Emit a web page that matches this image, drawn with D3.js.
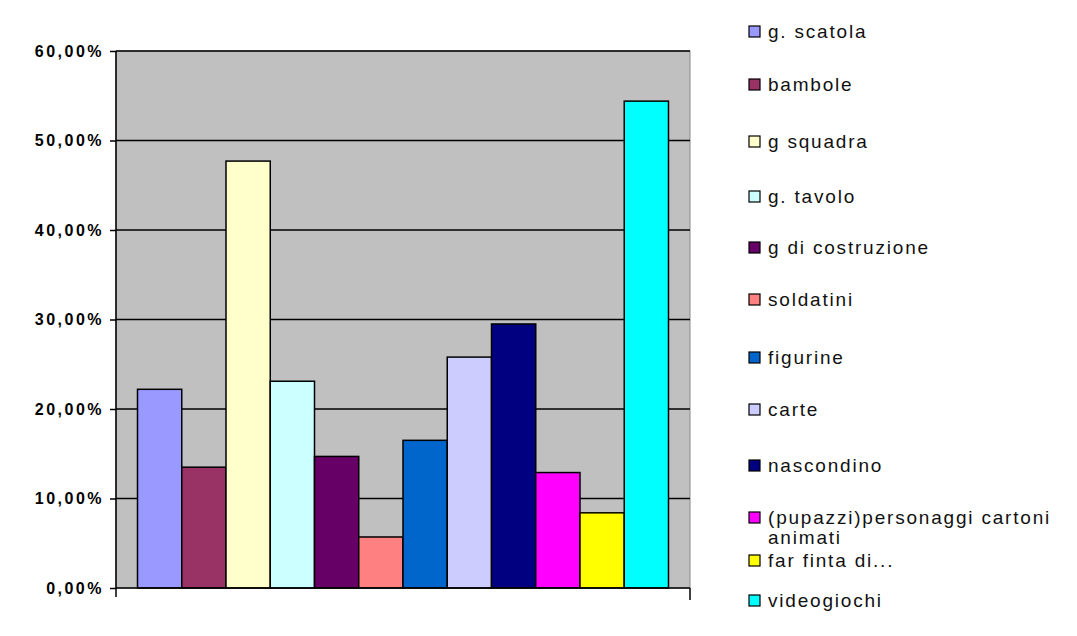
<!DOCTYPE html>
<html><head><meta charset="utf-8">
<script src="https://cdn.jsdelivr.net/npm/d3@7"></script>
<style>body{margin:0;background:#fff}svg{display:block}text{font-family:"Liberation Sans",Arial,sans-serif}</style>
</head><body><svg id="c" width="1077" height="636"></svg>
<script>
const categories = ["g. scatola","bambole","g squadra","g. tavolo","g di costruzione","soldatini","figurine","carte","nascondino","(pupazzi)personaggi cartoni|animati","far finta di...","videogiochi"];
const values = [22.2, 13.5, 47.7, 23.1, 14.7, 5.7, 16.5, 25.8, 29.5, 12.9, 8.4, 54.4];
const colors = ["#9999FF","#993366","#FFFFCC","#CCFFFF","#660066","#FF8080","#0066CC","#CCCCFF","#000080","#FF00FF","#FFFF00","#00FFFF"];
const yTicks = [0,10,20,30,40,50,60];
const tickLabels = ["0,00%","10,00%","20,00%","30,00%","40,00%","50,00%","60,00%"];
const legendY = [32,85,142,197,248,300,358,410,466,518,561,601];

const svg = d3.select("#c");
const L=116,R=690,T=51,B=588;
const x = d3.scaleBand().domain(categories).range([L,R]).paddingInner(0).paddingOuter(0.486);
const y = d3.scaleLinear().domain([0,60]).range([B,T]);

svg.append("rect").attr("x",L).attr("y",T).attr("width",R-L).attr("height",B-T).attr("fill","#C0C0C0").attr("stroke","#8a8a8a").attr("stroke-width",1);
svg.append("g").selectAll("line").data(yTicks.filter(d=>d>0)).join("line")
  .attr("x1",L).attr("x2",R).attr("y1",d=>y(d)).attr("y2",d=>y(d)).attr("stroke","#000").attr("stroke-width",1.5);

svg.append("g").selectAll("rect").data(values).join("rect")
  .attr("x",(d,i)=>x(categories[i])).attr("width",x.bandwidth())
  .attr("y",d=>y(d)).attr("height",d=>B-y(d))
  .attr("fill",(d,i)=>colors[i]).attr("stroke","#000").attr("stroke-width",1.5);

const ax = d3.axisLeft(y).tickValues(yTicks).tickFormat((d,i)=>tickLabels[i]).tickSize(6).tickPadding(6);
const g = svg.append("g").attr("transform",`translate(${L},0)`).call(ax);
g.select(".domain").remove();
g.selectAll(".tick line").attr("stroke","#000").attr("stroke-width",1.5);
g.selectAll(".tick text").attr("font-size",16).attr("letter-spacing","2.5px").attr("fill","#000").attr("font-weight","bold");

svg.append("line").attr("x1",L).attr("x2",L).attr("y1",T).attr("y2",B+9).attr("stroke","#000").attr("stroke-width",1.5);
svg.append("line").attr("x1",L).attr("x2",R).attr("y1",B).attr("y2",B).attr("stroke","#000").attr("stroke-width",1.5);
svg.append("line").attr("x1",R).attr("x2",R).attr("y1",B).attr("y2",B+12).attr("stroke","#000").attr("stroke-width",1.5);

const lg = svg.append("g").selectAll("g").data(categories).join("g")
  .attr("transform",(d,i)=>`translate(749,${legendY[i]})`);
lg.append("rect").attr("x",0).attr("y",-6).attr("width",11).attr("height",11)
  .attr("fill",(d,i)=>colors[i]).attr("stroke","#000").attr("stroke-width",1.2);
lg.each(function(d){
  const parts=d.split("|");
  const t=d3.select(this).append("text").attr("x",19).attr("y",6).attr("font-size",19).attr("letter-spacing","1.8px").attr("fill","#111");
  parts.forEach((p,k)=>t.append("tspan").attr("x",19).attr("dy",k?20:0).text(p));
});
</script></body></html>
